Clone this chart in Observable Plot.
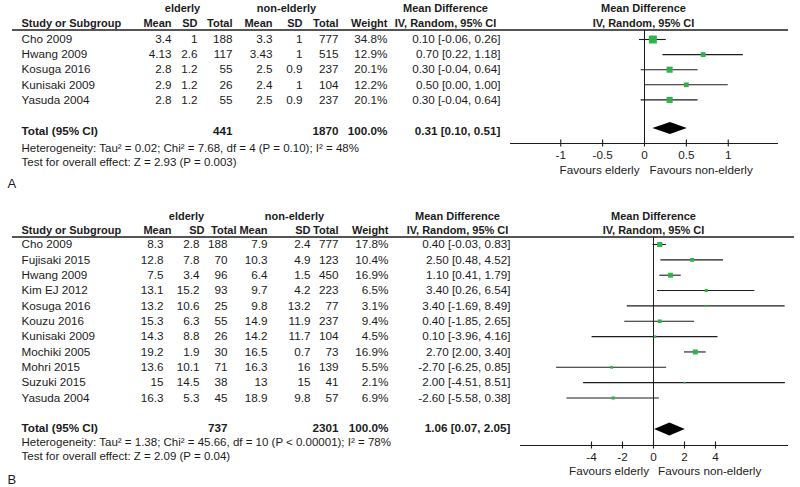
<!DOCTYPE html>
<html><head><meta charset="utf-8">
<script src="https://cdn.jsdelivr.net/npm/d3@7"></script>
<script src="https://cdn.jsdelivr.net/npm/@observablehq/plot@0.6"></script>
<style>
html,body{margin:0;padding:0;background:#fff;}
#chart{width:800px;height:487px;position:relative;overflow:hidden;background:#fff;}
#chart svg{display:block;}
</style></head><body><div id="chart"></div>
<script>
// ---------- Panel A data ----------
const studiesA = ["Cho 2009","Hwang 2009","Kosuga 2016","Kunisaki 2009","Yasuda 2004"];
const eMeanA = [3.4, 4.13, 2.8, 2.9, 2.8];
const eSDA   = [1, 2.6, 1.2, 1.2, 1.2];
const eTotA  = [188, 117, 55, 26, 55];
const nMeanA = [3.3, 3.43, 2.5, 2.4, 2.5];
const nSDA   = [1, 1, 0.9, 1, 0.9];
const nTotA  = [777, 515, 237, 104, 237];
const weightA = [34.8, 12.9, 20.1, 12.2, 20.1];
const mdA = [0.10, 0.70, 0.30, 0.50, 0.30];
const loA = [-0.06, 0.22, -0.04, 0.00, -0.04];
const hiA = [0.26, 1.18, 0.64, 1.00, 0.64];
const totalA = [441, 1870, 100.0, 0.31, 0.10, 0.51];
const hetA = "Heterogeneity: Tau\u00B2 = 0.02; Chi\u00B2 = 7.68, df = 4 (P = 0.10); I\u00B2 = 48%";
const testA = "Test for overall effect: Z = 2.93 (P = 0.003)";
const ticksA = [-1, -0.5, 0, 0.5, 1];

// ---------- Panel B data ----------
const studiesB = ["Cho 2009","Fujisaki 2015","Hwang 2009","Kim EJ 2012","Kosuga 2016","Kouzu 2016","Kunisaki 2009","Mochiki 2005","Mohri 2015","Suzuki 2015","Yasuda 2004"];
const eMeanB = [8.3, 12.8, 7.5, 13.1, 13.2, 15.3, 14.3, 19.2, 13.6, 15, 16.3];
const eSDB   = [2.8, 7.8, 3.4, 15.2, 10.6, 6.3, 8.8, 1.9, 10.1, 14.5, 5.3];
const eTotB  = [188, 70, 96, 93, 25, 55, 26, 30, 71, 38, 45];
const nMeanB = [7.9, 10.3, 6.4, 9.7, 9.8, 14.9, 14.2, 16.5, 16.3, 13, 18.9];
const nSDB   = [2.4, 4.9, 1.5, 4.2, 13.2, 11.9, 11.7, 0.7, 16, 15, 9.8];
const nTotB  = [777, 123, 450, 223, 77, 237, 104, 73, 139, 41, 57];
const weightB = [17.8, 10.4, 16.9, 6.5, 3.1, 9.4, 4.5, 16.9, 5.5, 2.1, 6.9];
const mdB = [0.40, 2.50, 1.10, 3.40, 3.40, 0.40, 0.10, 2.70, -2.70, 2.00, -2.60];
const loB = [-0.03, 0.48, 0.41, 0.26, -1.69, -1.85, -3.96, 2.00, -6.25, -4.51, -5.58];
const hiB = [0.83, 4.52, 1.79, 6.54, 8.49, 2.65, 4.16, 3.40, 0.85, 8.51, 0.38];
const totalB = [737, 2301, 100.0, 1.06, 0.07, 2.05];
const hetB = "Heterogeneity: Tau\u00B2 = 1.38; Chi\u00B2 = 45.66, df = 10 (P < 0.00001); I\u00B2 = 78%";
const testB = "Test for overall effect: Z = 2.09 (P = 0.04)";
const ticksB = [-4, -2, 0, 2, 4];

const headerGroups = ["elderly", "non-elderly"];
const colHeaders = ["Study or Subgroup","Mean","SD","Total","Mean","SD","Total","Weight"];
const mdHeader = ["Mean Difference", "IV, Random, 95% CI"];
const favours = ["Favours elderly", "Favours non-elderly"];

const INK = "#1c1c1c", GREEN = "#2eb34b";
const FONT = "'Liberation Sans', Arial, sans-serif";
const f2 = v => v.toFixed(2);
const ciText = (m, l, h) => `${f2(m)} [${f2(l)}, ${f2(h)}]`;

function panel(D, L) {
  const off = L.offset, H = L.height;
  const R = px => (px - L.top) / L.sp;   // page pixel -> row units
  const rows = D.studies.map((s, i) => ({
    i, s, em: D.eMean[i], esd: D.eSD[i], et: D.eTot[i],
    nm: D.nMean[i], nsd: D.nSD[i], nt: D.nTot[i],
    w: D.weight[i], md: D.md[i], lo: D.lo[i], hi: D.hi[i]
  }));
  const T = D.total;
  const base = {fill: INK, fontFamily: FONT, frameAnchor: "left"};
  const marks = [];
  const txt = (data, o) => marks.push(Plot.text(data, {...base, fontSize: 11.7, ...o}));
  const HF = 11;

  // header underline
  marks.push(Plot.ruleY([R(L.under)], {stroke: INK, strokeWidth: 1.4, insetLeft: 12, insetRight: L.lineRight}));
  // group headers
  txt([headerGroups[0]], {y: () => R(L.head1), dx: L.cols.gE, textAnchor: "middle", fontWeight: "bold", fontSize: HF});
  txt([headerGroups[1]], {y: () => R(L.head1), dx: L.cols.gN, textAnchor: "middle", fontWeight: "bold", fontSize: HF});
  txt([mdHeader[0]], {y: () => R(L.head1), dx: L.cols.mdH, textAnchor: "middle", fontWeight: "bold", fontSize: HF});
  txt([mdHeader[1]], {y: () => R(L.head2), dx: L.cols.mdH, textAnchor: "middle", fontWeight: "bold", fontSize: HF});
  txt([mdHeader[0]], {y: () => R(L.head1), dx: L.cols.plotH, textAnchor: "middle", fontWeight: "bold", fontSize: HF});
  txt([mdHeader[1]], {y: () => R(L.head2), dx: L.cols.plotH, textAnchor: "middle", fontWeight: "bold", fontSize: HF});
  const headX = L.head;
  colHeaders.forEach((h, k) => txt([h], {y: () => R(L.head2), dx: headX[k], textAnchor: k === 0 ? "start" : "end", fontWeight: "bold", fontSize: HF}));

  // study rows
  const colX = L.vals;
  txt(rows, {y: "i", text: "s", dx: L.cols.study, textAnchor: "start"});
  const getters = [d => String(d.em), d => String(d.esd), d => String(d.et), d => String(d.nm), d => String(d.nsd), d => String(d.nt), d => d.w.toFixed(1) + "%"];
  getters.forEach((g, k) => txt(rows, {y: "i", text: g, dx: colX[k], textAnchor: "end"}));
  txt(rows, {y: "i", text: d => ciText(d.md, d.lo, d.hi), dx: L.cols.md, textAnchor: "end"});

  // total row
  const yT = R(L.total);
  txt(["Total (95% CI)"], {y: () => yT, dx: L.cols.study, textAnchor: "start", fontWeight: "bold"});
  txt([String(T[0])], {y: () => yT, dx: colX[2], textAnchor: "end", fontWeight: "bold"});
  txt([String(T[1])], {y: () => yT, dx: colX[5], textAnchor: "end", fontWeight: "bold"});
  txt([T[2].toFixed(1) + "%"], {y: () => yT, dx: colX[6], textAnchor: "end", fontWeight: "bold"});
  txt([ciText(T[3], T[4], T[5])], {y: () => yT, dx: L.cols.md, textAnchor: "end", fontWeight: "bold"});
  txt([D.het], {y: () => R(L.het), dx: L.cols.study, textAnchor: "start", fontSize: 11.5});
  txt([D.test], {y: () => R(L.test), dx: L.cols.study, textAnchor: "start", fontSize: 11.5});
  txt([D.label], {y: () => R(L.label), dx: 7, textAnchor: "start", fontSize: 13});

  // forest
  const [x0, x1] = L.domain;
  const yAx = R(L.axis);
  marks.push(Plot.ruleX([0], {y1: R(L.under), y2: yAx, stroke: INK, strokeWidth: 1}));
  marks.push(Plot.ruleY(rows, {y: "i", x1: "lo", x2: "hi", stroke: INK, strokeWidth: 1.1}));
  marks.push(Plot.dot(rows, {x: "md", y: "i", symbol: "square", fill: GREEN, stroke: null,
    r: d => Math.max(1.6, L.k * Math.sqrt(d.w)) / Math.sqrt(Math.PI)}));
  const dh = L.dh / L.sp, yD = R(L.diamond);
  const dia = [{y: yD - dh, a: T[3], b: T[3]}, {y: yD, a: T[4], b: T[5]}, {y: yD + dh, a: T[3], b: T[3]}];
  marks.push(Plot.areaX(dia, {y: "y", x1: "a", x2: "b", fill: "#000", curve: "linear"}));
  // axis
  marks.push(Plot.ruleY([yAx], {x1: x0, x2: x1, stroke: INK, strokeWidth: 1.1}));
  const tl = 3.5 / L.sp;
  marks.push(Plot.ruleX(D.ticks, {x: d => d, y1: yAx - tl, y2: yAx + tl, stroke: INK, strokeWidth: 1.1}));
  marks.push(Plot.text(D.ticks, {x: d => d, y: () => R(L.tick), text: d => String(d), fill: INK, fontFamily: FONT, fontSize: 11.7}));
  marks.push(Plot.text([favours[0]], {x: () => 0, y: () => R(L.fav), dx: -L.favGap, textAnchor: "end", fill: INK, fontFamily: FONT, fontSize: 11.7}));
  marks.push(Plot.text([favours[1]], {x: () => 0, y: () => R(L.fav), dx: L.favGap, textAnchor: "start", fill: INK, fontFamily: FONT, fontSize: 11.7}));

  return Plot.plot({
    width: 800, height: H,
    marginLeft: 0, marginRight: 0, marginTop: 0, marginBottom: 0,
    x: {domain: L.domain, range: L.xRange, axis: null},
    y: {domain: [R(off), R(off + H)], range: [0, H], axis: null},
    r: {type: "identity"},
    style: {fontFamily: FONT, background: "#fff", overflow: "visible"},
    marks
  });
}

const DA = {studies: studiesA, eMean: eMeanA, eSD: eSDA, eTot: eTotA, nMean: nMeanA, nSD: nSDA, nTot: nTotA,
  weight: weightA, md: mdA, lo: loA, hi: hiA, total: totalA, het: hetA, test: testA, ticks: ticksA, label: "A"};
const DB = {studies: studiesB, eMean: eMeanB, eSD: eSDB, eTot: eTotB, nMean: nMeanB, nSD: nSDB, nTot: nTotB,
  weight: weightB, md: mdB, lo: loB, hi: hiB, total: totalB, het: hetB, test: testB, ticks: ticksB, label: "B"};

const LA = {offset: 0, height: 195, top: 39, sp: 15.1, head1: 8, head2: 22.5, under: 29.5, total: 130.5,
  diamond: 128, dh: 6, axis: 143, tick: 155, fav: 170, het: 147.5, test: 162, label: 183,
  domain: [-1.6, 1.6], xRange: [510, 778], k: 1.35, favGap: 5, lineRight: 12,
  head: [21, 171, 197, 232, 272, 302, 338, 387],
  vals: [171, 197, 232, 272, 302, 338, 387],
  cols: {study: 21, md: 500, gE: 182, gN: 286, mdH: 445, plotH: 643}};
const LB = {offset: 195, height: 292, top: 244, sp: 15.35, head1: 216, head2: 229.5, under: 236.5, total: 427.5,
  diamond: 429, dh: 6.5, axis: 445, tick: 457, fav: 471, het: 441.5, test: 456, label: 479,
  domain: [-8.58, 8.71], xRange: [520, 788], k: 1.2, favGap: 4.5, lineRight: 6,
  head: [21, 171, 204, 236, 267, 310, 338, 388],
  vals: [163, 199, 227, 267, 310, 338, 388],
  cols: {study: 21, md: 510, gE: 186, gN: 294, mdH: 457, plotH: 653}};

const chart = document.getElementById("chart");
chart.appendChild(panel(DA, LA));
chart.appendChild(panel(DB, LB));
</script></body></html>
